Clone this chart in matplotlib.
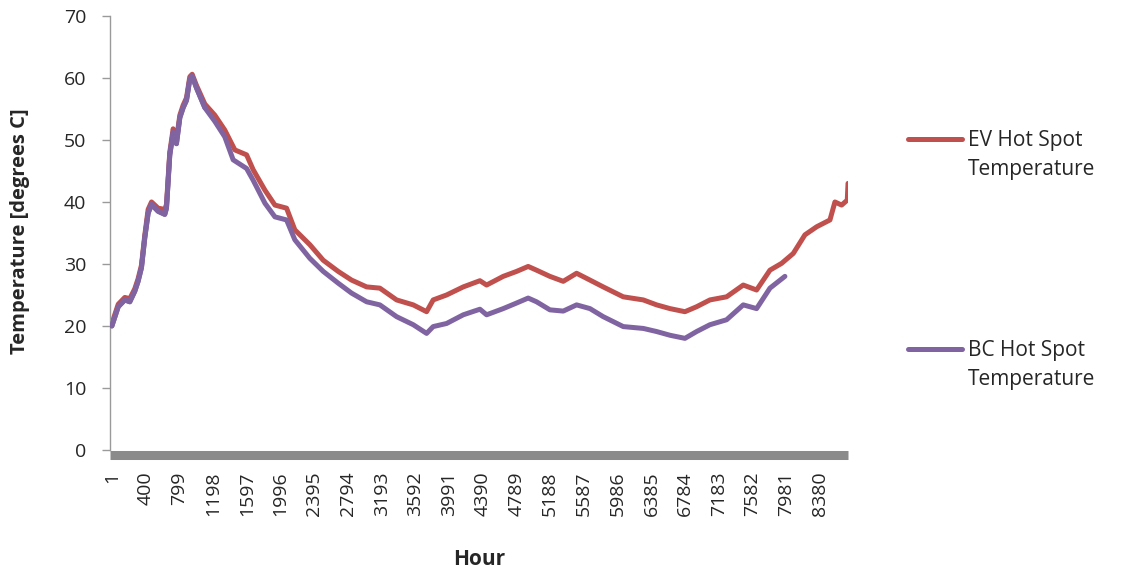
#!/usr/bin/env python3
#
# Hot spot temperature over one year of hours, EV vs BC case.
# Writes out.png in the current folder.

import matplotlib

matplotlib.use("Agg")

import matplotlib.pyplot as plt
from matplotlib.lines import Line2D

# Values (hour, degrees C)
ev_hours = [
    1, 76, 154, 213, 272, 311, 351, 390, 430, 470,
    548, 627, 647, 686, 726, 765, 805, 844, 884, 923,
    951, 1002, 1101, 1219, 1337, 1456, 1595, 1673, 1812, 1930,
    2068, 2166, 2344, 2502, 2679, 2837, 3015, 3172, 3370, 3567,
    3725, 3803, 3962, 4159, 4356, 4435, 4632, 4790, 4927, 5026,
    5184, 5342, 5500, 5658, 5815, 6052, 6289, 6447, 6605, 6782,
    6920, 7078, 7275, 7472, 7630, 7788, 7926, 8064, 8202, 8341,
    8498, 8557, 8636, 8703, 8712,
]
ev_temps = [
    20.4, 23.5, 24.6, 24.4, 26.0, 27.6, 29.8, 34.6, 38.8, 40.0,
    39.0, 38.8, 39.6, 48.0, 51.8, 50.0, 54.0, 55.6, 56.8, 60.2,
    60.6, 58.8, 55.8, 54.0, 51.6, 48.4, 47.6, 45.2, 41.9, 39.5,
    39.0, 35.5, 33.1, 30.6, 28.8, 27.4, 26.3, 26.1, 24.2, 23.4,
    22.3, 24.2, 25.0, 26.3, 27.3, 26.6, 28.0, 28.8, 29.6, 29.0,
    28.0, 27.2, 28.5, 27.4, 26.3, 24.7, 24.2, 23.4, 22.8, 22.3,
    23.1, 24.2, 24.7, 26.6, 25.8, 29.0, 30.1, 31.7, 34.7, 36.0,
    37.1, 40.0, 39.5, 40.3, 43.0,
]

bc_hours = [
    1, 76, 154, 213, 272, 311, 351, 390, 430, 470,
    548, 627, 647, 686, 726, 765, 805, 844, 884, 923,
    951, 1002, 1101, 1219, 1337, 1436, 1595, 1673, 1812, 1930,
    2068, 2166, 2344, 2502, 2679, 2837, 3015, 3172, 3370, 3567,
    3725, 3803, 3962, 4159, 4356, 4435, 4632, 4790, 4927, 5026,
    5184, 5342, 5500, 5658, 5815, 6052, 6289, 6447, 6605, 6782,
    6920, 7078, 7275, 7472, 7630, 7788, 7965,
]
bc_temps = [
    20.0, 23.1, 24.2, 23.9, 25.6, 27.2, 29.4, 34.2, 38.2, 39.6,
    38.5, 38.0, 39.0, 47.6, 51.2, 49.4, 53.6, 55.2, 56.4, 59.8,
    60.3, 58.4, 55.2, 53.0, 50.5, 46.8, 45.4, 43.5, 39.8, 37.6,
    37.1, 33.9, 30.9, 28.8, 26.9, 25.3, 23.9, 23.4, 21.5, 20.2,
    18.8, 19.9, 20.4, 21.8, 22.7, 21.8, 22.8, 23.7, 24.5, 23.9,
    22.6, 22.4, 23.4, 22.8, 21.5, 19.9, 19.6, 19.1, 18.5, 18.0,
    19.1, 20.2, 21.0, 23.4, 22.8, 26.1, 28.0,
]

hour_ticks = [1, 400, 799, 1198, 1597, 1996, 2395, 2794, 3193, 3592, 3991,
              4390, 4789, 5188, 5587, 5986, 6385, 6784, 7183, 7582, 7981, 8380]
temp_ticks = [0, 10, 20, 30, 40, 50, 60, 70]

series_labels = ["EV Hot Spot\nTemperature", "BC Hot Spot\nTemperature"]

EV_COLOR = "#C0504D"
BC_COLOR = "#8064A2"
TEXT_COLOR = "#262626"


def main() -> int:
    plt.rcParams["font.family"] = ["Open Sans", "DejaVu Sans"]

    fig = plt.figure(figsize=(11.21, 5.71), dpi=100)
    ax = fig.add_axes([0.098, 0.212, 0.6585, 0.76])

    line_kw = dict(linewidth=3.6, solid_joinstyle="round", solid_capstyle="round")
    ax.plot(bc_hours, bc_temps, color=BC_COLOR, zorder=3, **line_kw)
    ax.plot(ev_hours, ev_temps, color=EV_COLOR, zorder=2, **line_kw)
    # purple on top where the two overlap early in the year
    ax.plot(bc_hours[:23], bc_temps[:23], color=BC_COLOR, zorder=4, **line_kw)

    ax.set_xlim(-23, 8712)
    ax.set_ylim(0, 70)

    ax.set_yticks(temp_ticks)
    ax.set_xticks(hour_ticks)
    ax.set_xticklabels([str(h) for h in hour_ticks])

    for side in ("top", "right"):
        ax.spines[side].set_visible(False)
    ax.spines["left"].set_color("#9a9a9a")
    ax.spines["left"].set_linewidth(1.0)
    ax.spines["bottom"].set_color("#8a8a8a")
    ax.spines["bottom"].set_linewidth(6.5)
    ax.spines["bottom"].set_position(("outward", 3.5))
    ax.spines["bottom"].set_capstyle("butt")

    ax.tick_params(axis="y", length=6, width=1.0, color="#9a9a9a",
                   labelsize=14, labelcolor=TEXT_COLOR, pad=11)
    ax.tick_params(axis="x", length=0, labelsize=14, labelrotation=90,
                   labelcolor=TEXT_COLOR, pad=12)

    ax.set_ylabel("Temperature [degrees C]", fontsize=14.5, fontweight="bold",
                  color=TEXT_COLOR)
    ax.yaxis.set_label_coords(-0.108, 0.505)
    ax.set_xlabel("Hour", fontsize=15, fontweight="bold", color=TEXT_COLOR)
    ax.xaxis.set_label_coords(0.501, -0.228)

    # legend entries placed at the right, like the spreadsheet layout
    for label, color, y_px in zip(series_labels, [EV_COLOR, BC_COLOR], [139, 349]):
        y_line = 1 - y_px / 571
        fig.add_artist(Line2D([908 / 1121, 962 / 1121], [y_line, y_line],
                              color=color, linewidth=3.6,
                              solid_capstyle="round"))
        fig.text(968 / 1121, 1 - (y_px + 16) / 571, label, fontsize=15,
                 color=TEXT_COLOR, va="center", ha="left", linespacing=1.5)

    fig.savefig("out.png", dpi=100)
    plt.close(fig)
    return 0


if __name__ == "__main__":
    raise SystemExit(main())
